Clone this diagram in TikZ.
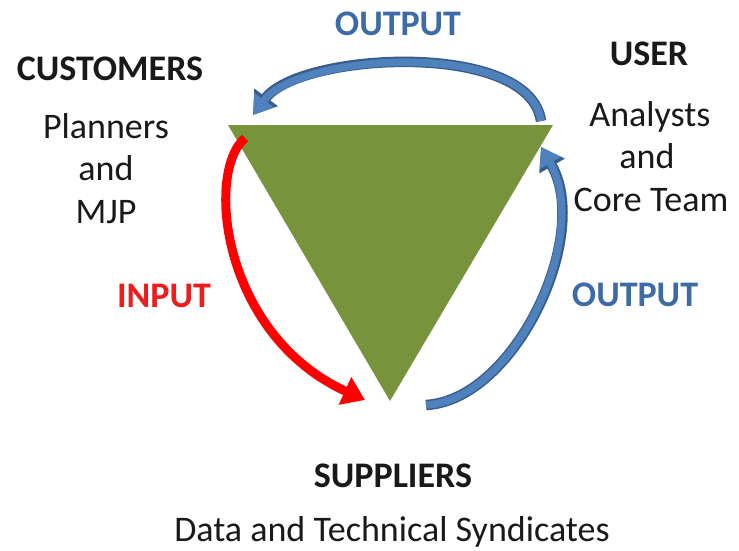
\documentclass[tikz,border=0pt]{standalone}
\usepackage{fontspec}
\setmainfont{Carlito}
\usetikzlibrary{arrows.meta}
\definecolor{trigreen}{HTML}{77933C}
\definecolor{arrowblue}{HTML}{4F81BD}
\definecolor{arrowblueedge}{HTML}{385D8A}
\definecolor{textblue}{HTML}{3D6BA6}
\definecolor{arrowred}{HTML}{FF0000}
\definecolor{textred}{HTML}{EE1C1C}
\begin{document}
\begin{tikzpicture}[x=1pt,y=-1pt,
  lbl/.style={font=\fontsize{36}{42}\selectfont, anchor=base, inner sep=0pt, text=black!90},
  hd/.style={lbl, font=\fontsize{36}{42}\selectfont\bfseries},
  blueedge/.style={draw=arrowblueedge, line width=10.5pt, -{Triangle[length=22pt,width=28pt]}},
  bluefill/.style={draw=arrowblue, line width=7.5pt, -{Triangle[length=18.5pt,width=23pt]}},
  redarrow/.style={draw=arrowred, line width=9pt, -{Triangle[length=22pt,width=29pt]}}]
\useasboundingbox (0,0) rectangle (739,550);
% triangle
\coordinate (tl) at (228,125);
\coordinate (tr) at (553,125);
\coordinate (bt) at (390,401);
\fill[trigreen] (tl) -- (tr) -- (bt) -- cycle;
% arrow end points
\coordinate (topS) at (541,121);
\coordinate (topE) at (253,115);
\coordinate (rS) at (426,405);
\coordinate (rE) at (541,147);
\coordinate (iS) at (245,138);
\coordinate (iE) at (365,400);
% top output arrow
\draw[blueedge] (topS) .. controls (530,40) and (300,52) .. (topE);
\draw[bluefill] (topS) .. controls (530,40) and (300,52) .. (topE);
% right output arrow
\draw[blueedge] (rS) .. controls (515,400) and (592,235) .. (rE);
\draw[bluefill] (rS) .. controls (515,400) and (592,235) .. (rE);
% input arrow
\draw[redarrow] (iS) .. controls (205,172) and (222,335) .. (iE);
% labels
\node[hd, text=textblue] (outtop) at (398,35) {OUTPUT};
\node[hd] (customers) at (110,80) {CUSTOMERS};
\node[lbl] (planners) at (106,138) {Planners};
\node[lbl] (andl) at (106,180) {and};
\node[lbl] (mjp) at (106,223) {MJP};
\node[hd] (user) at (649,65) {USER};
\node[lbl] (analysts) at (650,126) {Analysts};
\node[lbl] (andr) at (647,168) {and};
\node[lbl] (core) at (651,211) {Core Team};
\node[hd, text=textred] (input) at (164,307) {INPUT};
\node[hd, text=textblue] (outright) at (635,306) {OUTPUT};
\node[hd] (suppliers) at (393,487) {SUPPLIERS};
\node[lbl] (data) at (392,541) {Data and Technical Syndicates};
\end{tikzpicture}
\end{document}
